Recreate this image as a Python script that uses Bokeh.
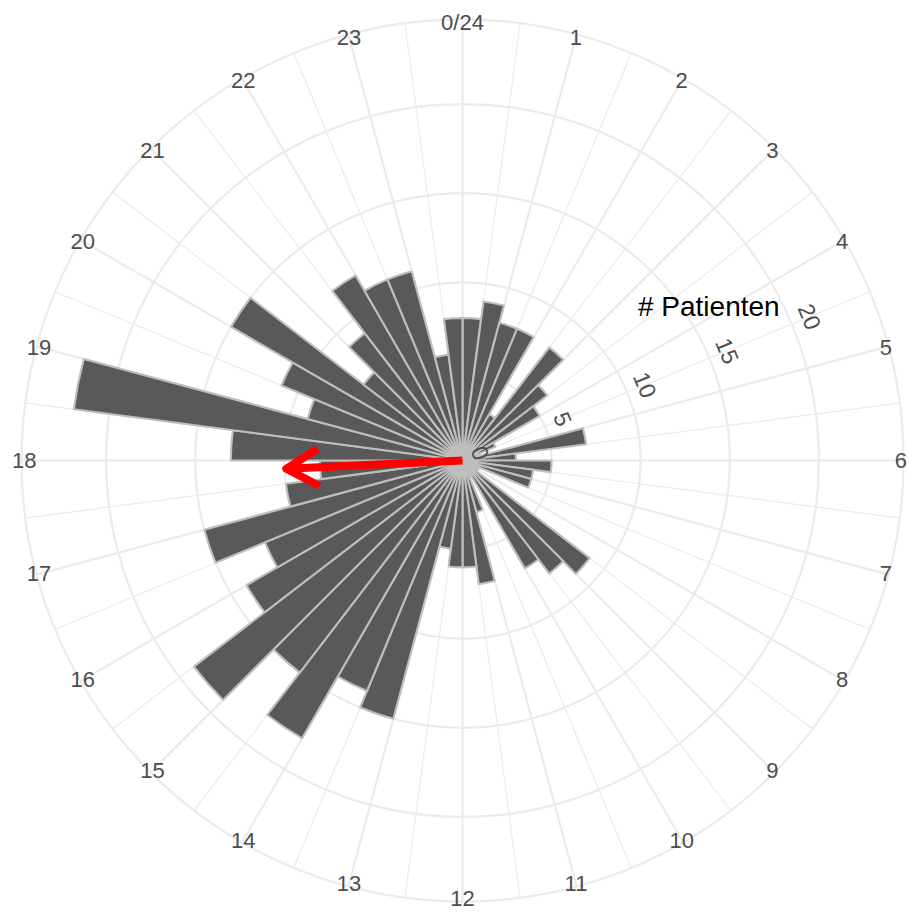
import numpy as np
from bokeh.plotting import figure
from bokeh.models import Range1d
from bokeh.embed import file_html
from bokeh.resources import INLINE
from bokeh.core.properties import value

# Patients admitted per half-hour slot, clockwise from 00:00
slot_start = [h / 2 for h in range(48)]  # start of each slot, in hours
patients = [8, 9, 8, 8, 3, 8, 6, 5, 2, 1, 7, 3,
            5, 4, 4, 1, 1, 9, 8, 7, 1, 3, 7, 6,
            6, 5, 15, 14, 18, 15, 19, 14, 12, 15, 10, 8,
            13, 22, 9, 11, 15, 7, 9, 12, 11, 11, 6, 8]

# Clock-face labels and radial count ticks
hour_ticks = list(range(24))
hour_labels = ["0/24"] + [str(h) for h in range(1, 24)]
count_ticks = [0, 5, 10, 15, 20]
count_labels = ["0", "5", "10", "15", "20"]

# Mean admission time (hours) and resultant length (patients) for the arrow
mean_hour = 17.82
mean_length = 9.9

# ---- layout -------------------------------------------------------------
W, H = 909, 912
PX = 17.82            # pixels per patient on the radial scale
CX, CY = 462, 460     # pixel position of the pole
outer_r = max(patients) * 0.45 / 0.4

GRID = "#EBEBEB"
TXT = "#4D4D4D"
FONT = value("Liberation Sans")


def ang(hours):
    """Clock time in hours -> Bokeh angle (radians, ccw from +x)."""
    return np.deg2rad(90.0 - np.asarray(hours, dtype=float) * 15.0)


def polar(r, hours):
    a = ang(hours)
    r = np.asarray(r, dtype=float)
    return r * np.cos(a), r * np.sin(a)


p = figure(width=W, height=H, output_backend="svg", toolbar_location=None,
           x_range=Range1d(-CX / PX, (W - CX) / PX),
           y_range=Range1d(-(H - CY) / PX, CY / PX),
           x_axis_type=None, y_axis_type=None, min_border=0)
p.grid.visible = False
p.outline_line_color = None
p.background_fill_color = "white"
p.border_fill_color = "white"

# radial spokes: minor at the half hours, major at the full hours
half_hours = [h + 0.5 for h in hour_ticks]
mx, my = polar([outer_r] * len(half_hours), half_hours)
p.segment(x0=0, y0=0, x1=mx, y1=my, line_color=GRID, line_width=1.2)
hx, hy = polar([outer_r] * len(hour_ticks), hour_ticks)
p.segment(x0=0, y0=0, x1=hx, y1=hy, line_color=GRID, line_width=2.2)

# count circles plus the outer rim
rings = [t for t in count_ticks if t > 0] + [outer_r]
p.circle(x=[0] * len(rings), y=[0] * len(rings), radius=rings,
         fill_color=None, line_color=GRID, line_width=2.2)

# rose bars, one wedge per half-hour slot
p.wedge(x=0, y=0, radius=patients,
        start_angle=ang([s + 0.5 for s in slot_start]),
        end_angle=ang(slot_start), direction="anticlock",
        fill_color="#595959", line_color="#BEBEBE", line_width=2.1)

# clock labels on the rim
lx, ly = polar([outer_r - 0.15] * len(hour_ticks), hour_ticks)
p.text(x=lx, y=ly, text=hour_labels, text_align="center",
       text_baseline="middle", text_font=FONT, text_font_size="22px",
       text_color=TXT)

# radial count labels along the 4:30 direction
label_hour = 4.5
cx_, cy_ = polar([t + 1.1 for t in count_ticks], [label_hour] * len(count_ticks))
p.text(x=cx_, y=cy_, text=count_labels, angle=-np.deg2rad(label_hour * 15),
       text_align="center", text_baseline="middle", text_font=FONT,
       text_font_size="23px", text_color=TXT)

# radial axis title
tx, ty = polar([16.3], [58 / 15])
p.text(x=tx, y=ty, text=["# Patienten"], text_align="center",
       text_baseline="middle", text_font=FONT, text_font_size="28px",
       text_color="black")

# mean direction arrow
tipx, tipy = polar([mean_length], [mean_hour])
p.segment(x0=[0], y0=[0], x1=tipx, y1=tipy, line_color="#FF0000",
          line_width=8, line_cap="butt")
back = ang(mean_hour) + np.pi
head_len = 2.1
spread = np.deg2rad(30)
arm_x = [tipx[0] + head_len * np.cos(back + spread), tipx[0],
         tipx[0] + head_len * np.cos(back - spread)]
arm_y = [tipy[0] + head_len * np.sin(back + spread), tipy[0],
         tipy[0] + head_len * np.sin(back - spread)]
p.line(x=arm_x, y=arm_y, line_color="#FF0000", line_width=8,
       line_join="round", line_cap="butt")

open("out.html", "w").write(file_html(p, INLINE))
